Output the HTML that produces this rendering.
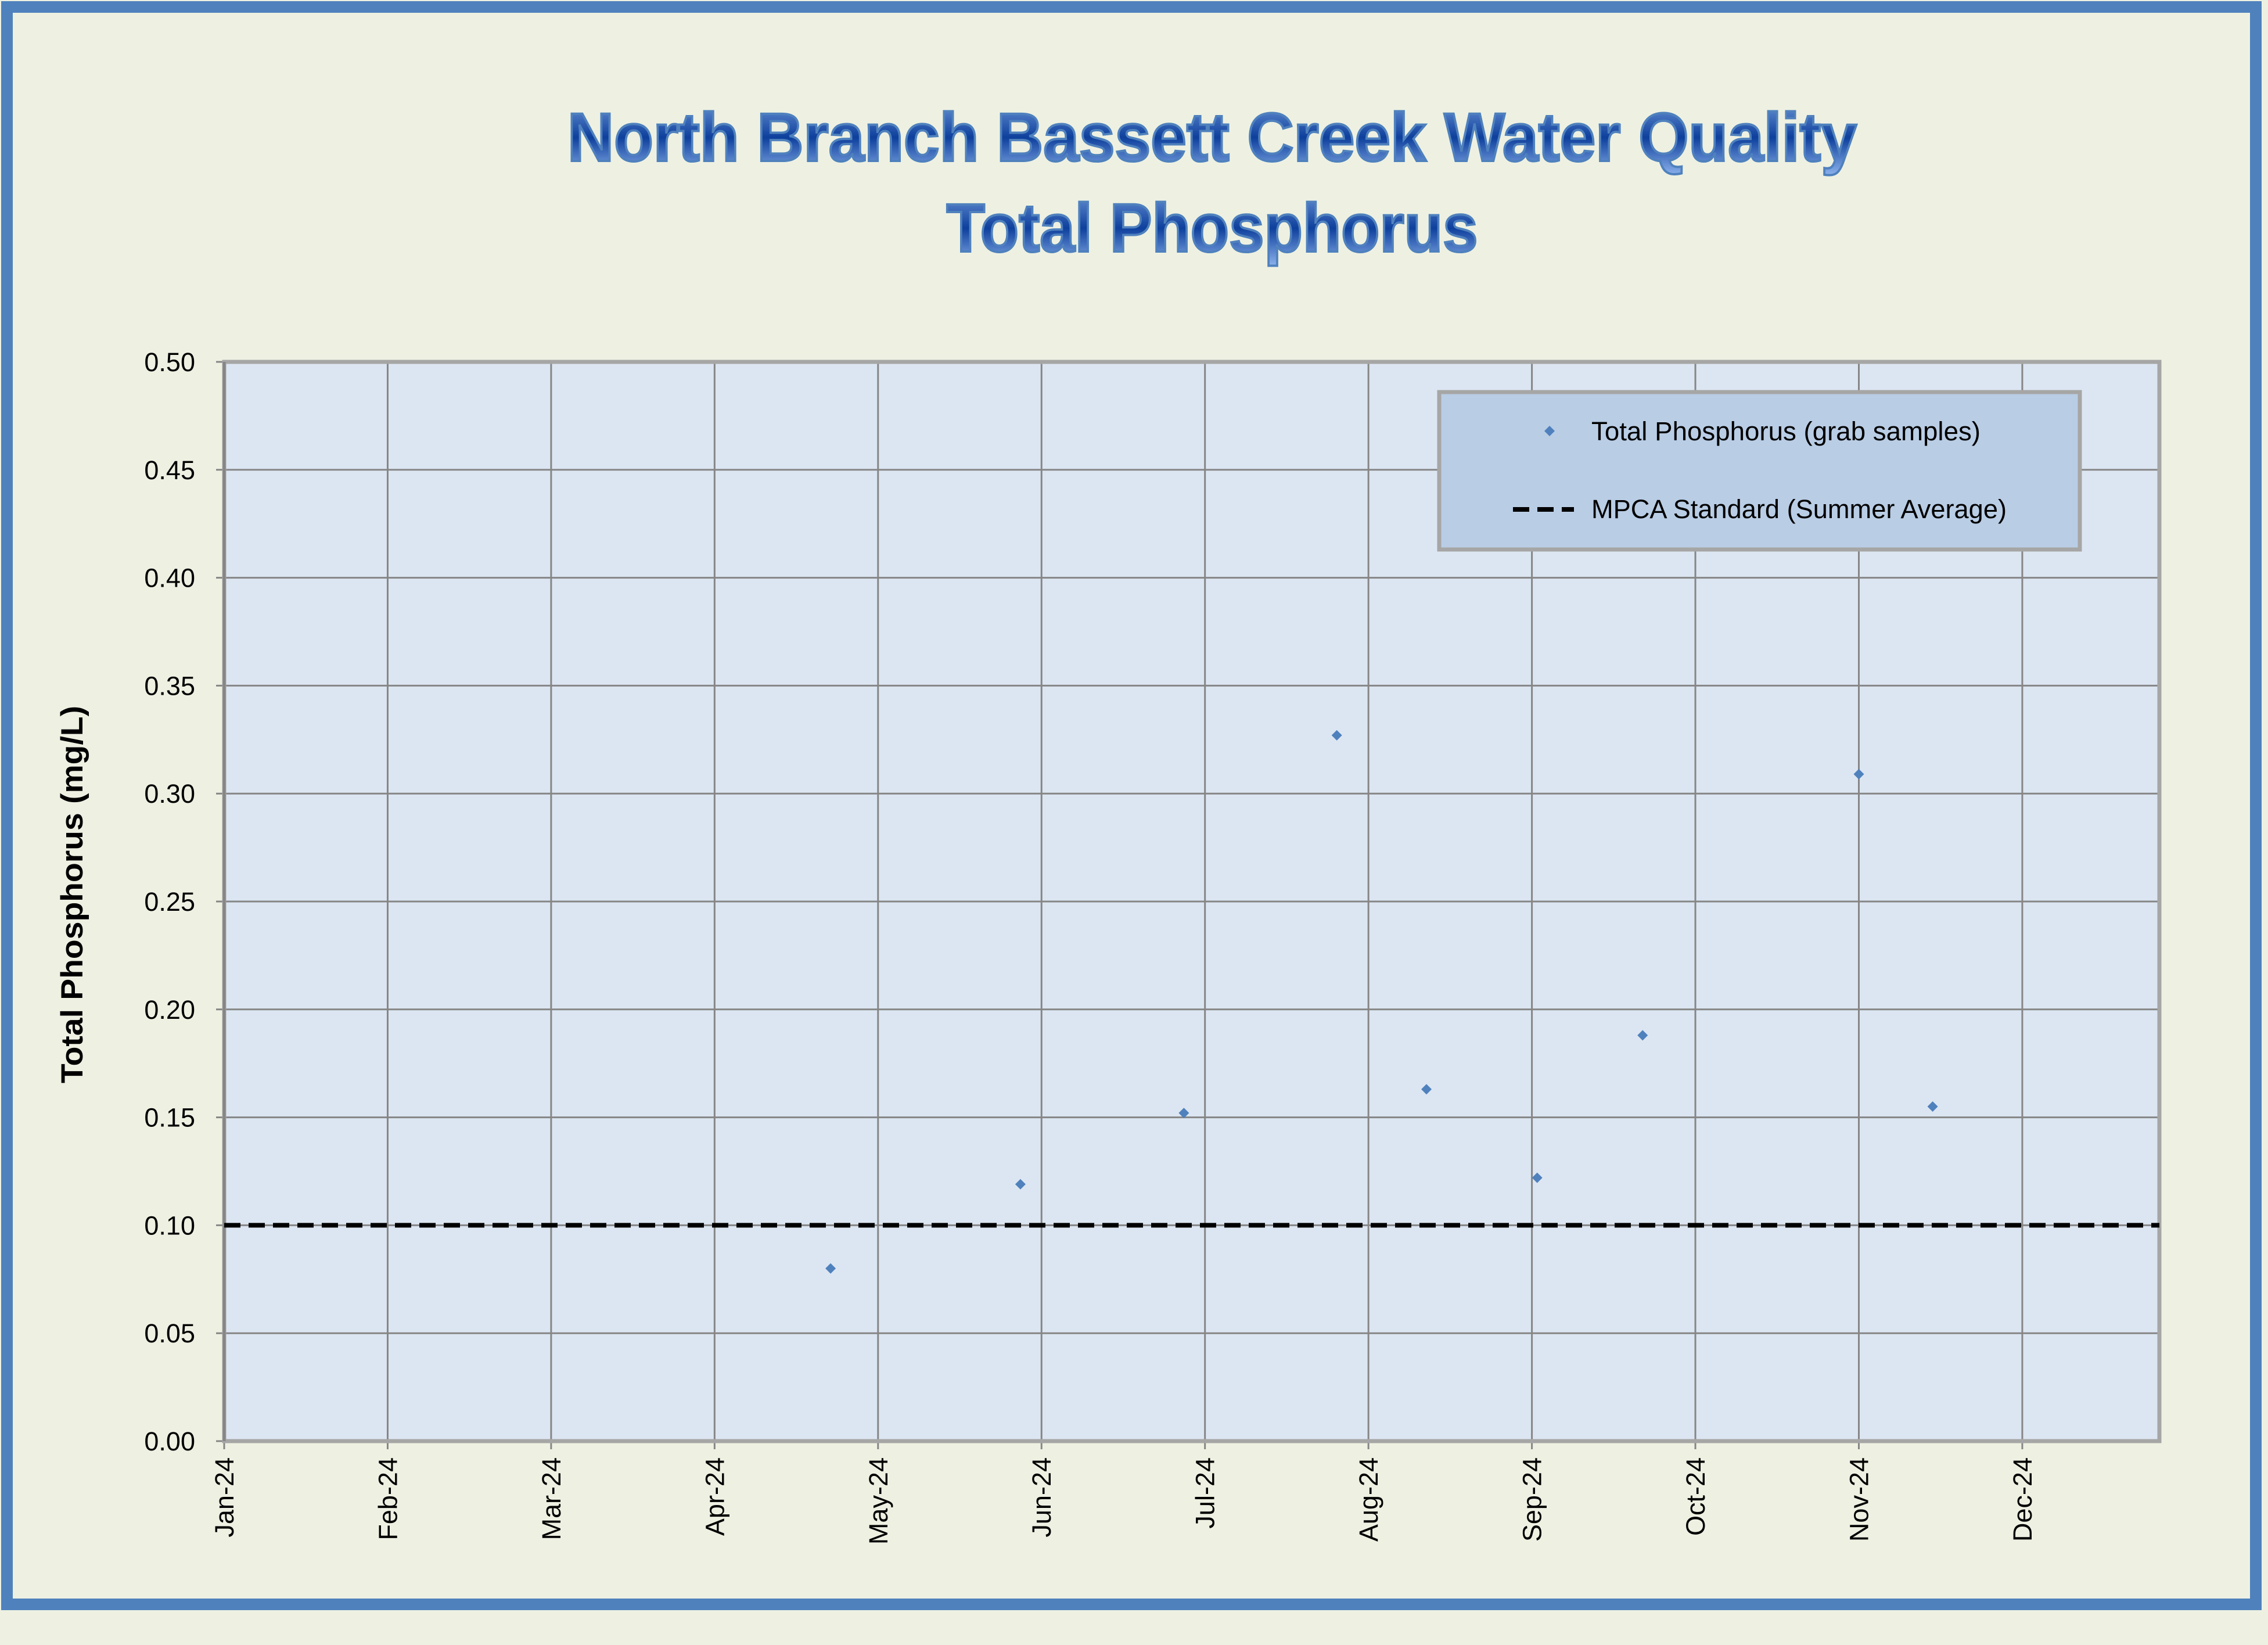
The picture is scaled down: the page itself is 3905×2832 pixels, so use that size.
<!DOCTYPE html>
<html><head><meta charset="utf-8"><style>
html,body{margin:0;padding:0;background:#eef1e2;}
svg{display:block;font-family:"Liberation Sans",sans-serif;}
</style></head><body>
<svg id="chart" width="3905" height="2832" viewBox="0 0 3905 2832">
<defs>
<linearGradient id="tg" x1="0" y1="0" x2="0" y2="1">
<stop offset="0" stop-color="#6f98d8"/><stop offset="0.5" stop-color="#0d3f9c"/><stop offset="1" stop-color="#8fb4ee"/>
</linearGradient>
</defs>
<rect x="0" y="0" width="3905" height="2832" fill="#eef1e2"/>
<rect x="12" y="12" width="3872" height="2750" fill="#eef1e2" stroke="#4f81bd" stroke-width="20"/>
<g>
<text x="2087" y="277" text-anchor="middle" font-size="118" font-weight="bold" fill="url(#tg)" stroke="#4f81bd" stroke-width="4" textLength="2220" lengthAdjust="spacingAndGlyphs">North Branch Bassett Creek Water Quality</text>
<text x="2087" y="433" text-anchor="middle" font-size="118" font-weight="bold" fill="url(#tg)" stroke="#4f81bd" stroke-width="4" textLength="915" lengthAdjust="spacingAndGlyphs">Total Phosphorus</text>
</g>
<g id="plot"></g>
<text x="0" y="0" transform="translate(142,1540) rotate(-90)" text-anchor="middle" font-size="53" font-weight="bold" fill="#000" textLength="650" lengthAdjust="spacingAndGlyphs">Total Phosphorus (mg/L)</text>
<g>
<rect x="2478" y="675" width="1103" height="271" fill="#b9cde5" stroke="#a6a6a6" stroke-width="7"/>
<path d="M2668,733 l9,9 l-9,9 l-9,-9 z" fill="#4f81bd"/>
<text x="2740" y="758" font-size="45" fill="#000" textLength="670" lengthAdjust="spacingAndGlyphs">Total Phosphorus (grab samples)</text>
<line x1="2605" y1="877" x2="2710" y2="877" stroke="#000" stroke-width="8" stroke-dasharray="28,14"/>
<text x="2740" y="892" font-size="45" fill="#000" textLength="715" lengthAdjust="spacingAndGlyphs">MPCA Standard (Summer Average)</text>
</g>
</svg>
<script>
const months = ["Jan-24","Feb-24","Mar-24","Apr-24","May-24","Jun-24","Jul-24","Aug-24","Sep-24","Oct-24","Nov-24","Dec-24"];
const tickDays = [0,31,62,93,124,155,186,217,248,279,310,341];
const yTicks = [0,0.05,0.10,0.15,0.20,0.25,0.30,0.35,0.40,0.45,0.50];
const sampleDays = [115,151,182,211,228,249,269,310,324];
const sampleValues = [0.080,0.119,0.152,0.327,0.163,0.122,0.188,0.309,0.155];
const standardValue = 0.10;

const L=386,R=3718,T=623,B=2481,D=367;
const xs=d=>L+(R-L)*d/D, ys=v=>B-(B-T)*v/0.5;
const NS="http://www.w3.org/2000/svg";
const g=document.getElementById('plot');
function mk(tag,at,parent){const e=document.createElementNS(NS,tag);for(const k in at)e.setAttribute(k,at[k]);(parent||g).appendChild(e);return e;}
let e=mk('rect',{x:L,y:T,width:R-L,height:B-T,fill:'#dce6f2'});


yTicks.forEach(v=>{
  let l=mk('line',{x1:L-14,x2:R,y1:ys(v),y2:ys(v),stroke:'#868686','stroke-width':3});
  
  
  let t=mk('text',{x:L-50,y:ys(v)+16,'text-anchor':'end','font-size':45,fill:'#000'});
  t.textContent=v.toFixed(2);
  
  
});
months.forEach((m,i)=>{
  const x=xs(tickDays[i]);
  let l=mk('line',{x1:x,x2:x,y1:T,y2:B+14,stroke:'#868686','stroke-width':3});
  
  
  let t=mk('text',{x:0,y:0,transform:`translate(${x+16},${B+28}) rotate(-90)`,'text-anchor':'end','font-size':45,fill:'#000'});
  t.textContent=m;
  
  
});
e=mk('rect',{x:L,y:T,width:R-L,height:B-T,fill:'none',stroke:'#a6a6a6','stroke-width':7});


e=mk('line',{x1:L,x2:L,y1:T,y2:B,stroke:'#868686','stroke-width':5});


e=mk('line',{x1:L,x2:R,y1:ys(standardValue),y2:ys(standardValue),stroke:'#000','stroke-width':8,'stroke-dasharray':'28,14'});


sampleDays.forEach((d,i)=>{
  const x=xs(d),y=ys(sampleValues[i]);
  let p=mk('path',{d:`M${x},${y-9} l9,9 l-9,9 l-9,-9 z`,fill:'#4f81bd'});
  
  
});
</script>
</body></html>
